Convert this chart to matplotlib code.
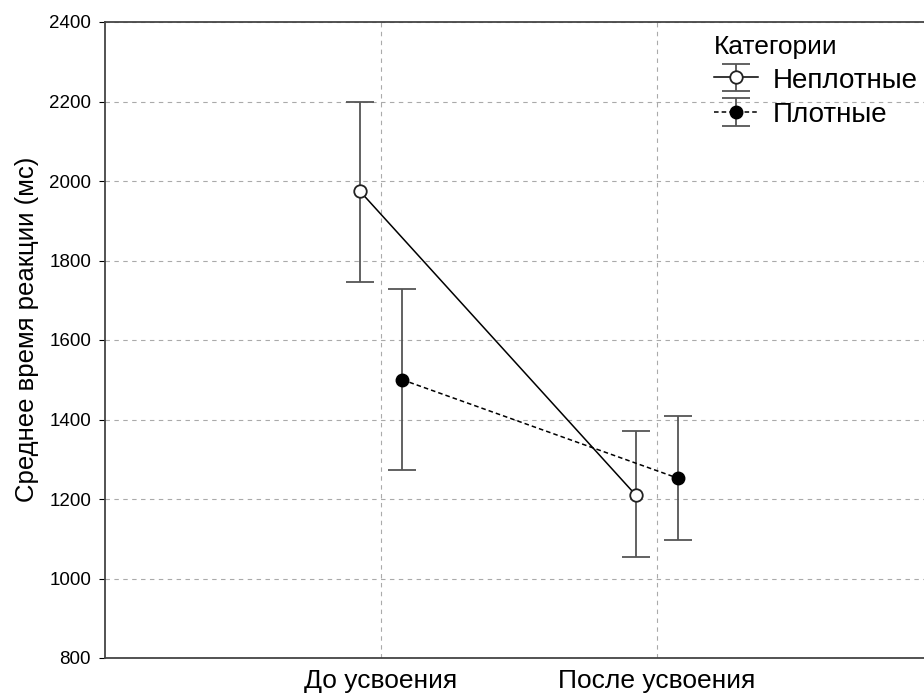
import matplotlib.pyplot as plt
import numpy as np

plt.rcParams['font.family'] = ['Liberation Sans', 'DejaVu Sans']

categories = ['До усвоения', 'После усвоения']
series_names = ['Неплотные', 'Плотные']
means_loose = [1975, 1210]
low_loose = [1745, 1055]
high_loose = [2200, 1370]
means_dense = [1500, 1252]
low_dense = [1273, 1097]
high_dense = [1728, 1410]

fig = plt.figure(figsize=(9.24, 6.98), dpi=100)
ax = fig.add_axes([105 / 924, 40 / 698, 828 / 924, 636 / 698])

x = np.arange(1, len(categories) + 1)
offset = 0.077

err_loose = [np.array(means_loose) - np.array(low_loose), np.array(high_loose) - np.array(means_loose)]
err_dense = [np.array(means_dense) - np.array(low_dense), np.array(high_dense) - np.array(means_dense)]

ax.errorbar(x - offset, means_loose, yerr=err_loose, color='black', ecolor='#555555',
            elinewidth=1.3, capsize=10, capthick=1.3, lw=1.1, ls='-', marker='o',
            markersize=9, markerfacecolor='white', markeredgecolor='#222222',
            markeredgewidth=1.3, label=series_names[0], zorder=3)
ax.errorbar(x + offset, means_dense, yerr=err_dense, color='black', ecolor='#555555',
            elinewidth=1.3, capsize=10, capthick=1.3, lw=1.1, ls=(0, (3, 2)), marker='o',
            markersize=9, markerfacecolor='black', markeredgecolor='black',
            label=series_names[1], zorder=3)

ax.set_xlim(0, 3)
ax.set_ylim(800, 2400)
ax.set_xticks(x)
ax.set_xticklabels(categories, fontsize=19)
ax.set_yticks(np.arange(800, 2401, 200))
ax.tick_params(axis='y', labelsize=13.5, length=4, direction='out', pad=6)
ax.tick_params(axis='x', length=0, pad=8)
ax.set_ylabel('Среднее время реакции (мс)', fontsize=18.5)
ax.yaxis.set_label_coords(-0.08, 0.517)
ax.grid(True, ls=(0, (4, 4)), color='#aaaaaa', lw=0.8)
ax.set_axisbelow(True)
for s in ax.spines.values():
    s.set_color('#444444')
    s.set_linewidth(1.3)

leg = ax.legend(title='Категории', loc='upper left', bbox_to_anchor=(0.722, 0.997),
                frameon=False, fontsize=20, title_fontsize=19, handlelength=1.6,
                handleheight=0.8, handletextpad=0.5, borderaxespad=0, labelspacing=0.3)
leg._legend_box.align = 'left'

fig.savefig('out.png', dpi=100)
